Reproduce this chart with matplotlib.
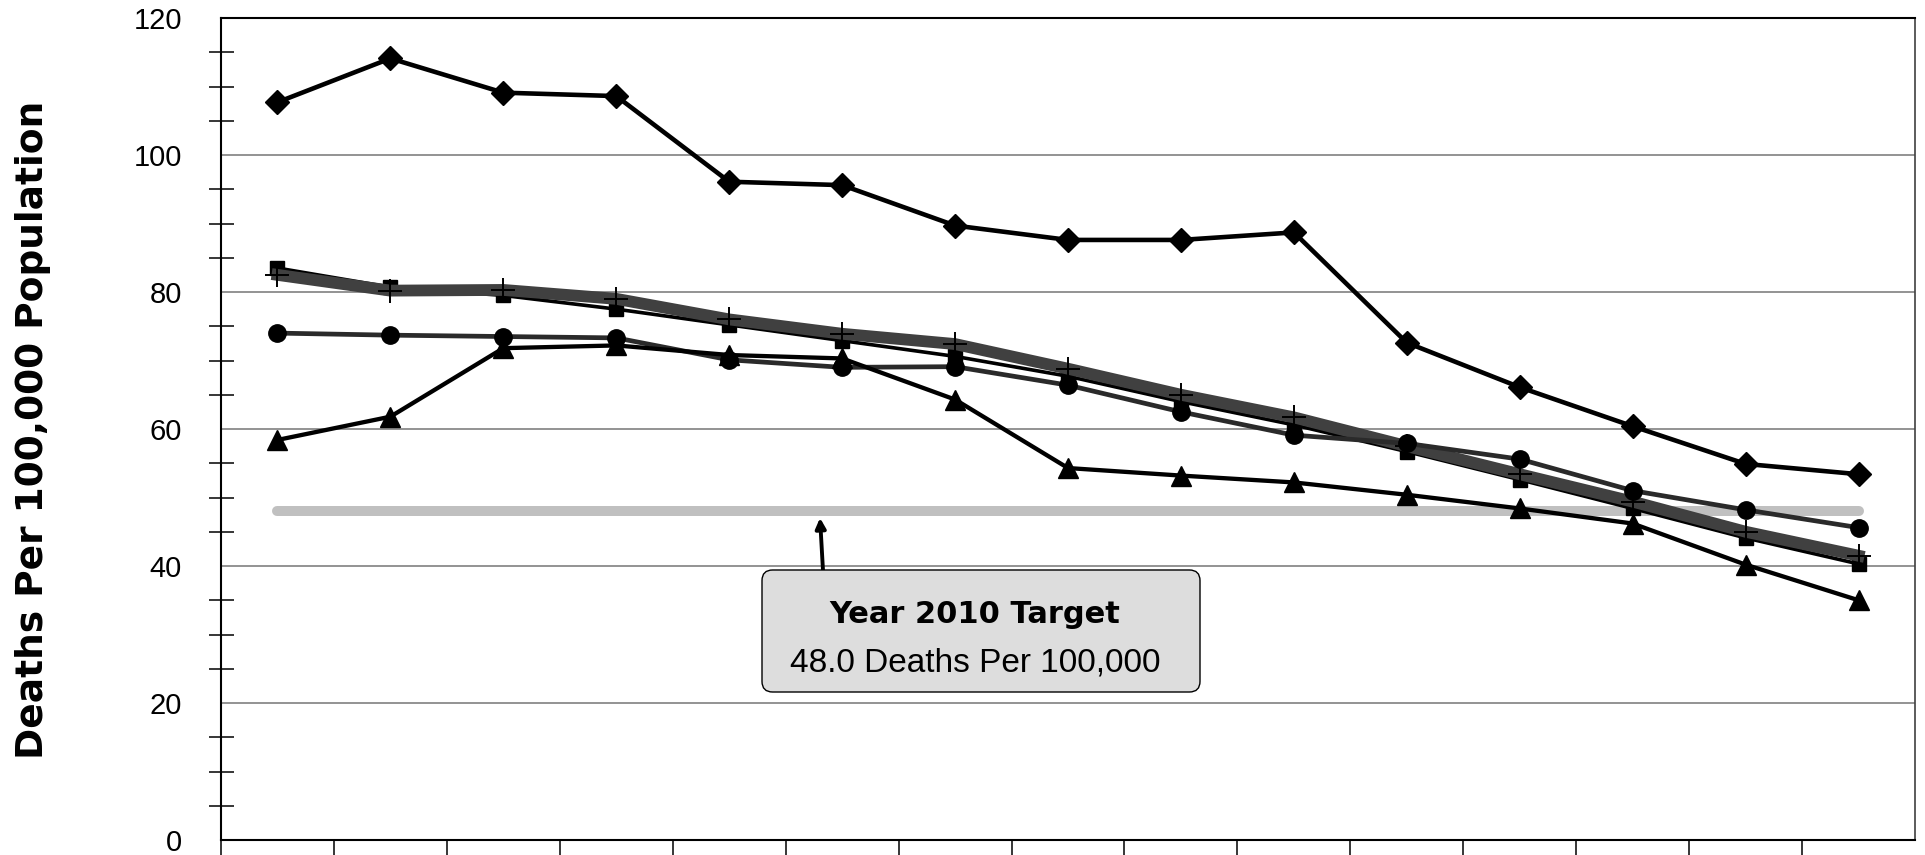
import numpy as np
import matplotlib
matplotlib.use("Agg")
import matplotlib.pyplot as plt
from matplotlib.patches import FancyBboxPatch
from matplotlib.ticker import FixedLocator, NullFormatter

# ---- data ----
years = [str(y) for y in range(1990, 2005)]
series_diamond = [107.7, 114.1, 109.1, 108.6, 96.1, 95.6, 89.7, 87.6, 87.6, 88.7, 72.6, 66.1, 60.4, 54.9, 53.4]
series_square = [83.5, 80.7, 79.5, 77.5, 75.2, 72.9, 70.6, 67.7, 64.0, 60.6, 56.7, 52.6, 48.4, 44.1, 40.3]
series_plus = [82.5, 80.2, 80.3, 79.0, 76.0, 73.9, 72.4, 68.8, 65.0, 61.7, 57.5, 53.4, 49.4, 45.0, 41.5]
series_circle = [74.0, 73.7, 73.5, 73.3, 70.1, 69.0, 69.1, 66.4, 62.5, 59.1, 57.9, 55.6, 51.0, 48.2, 45.6]
series_triangle = [58.4, 61.8, 71.8, 72.2, 70.8, 70.3, 64.3, 54.3, 53.2, 52.2, 50.4, 48.4, 46.2, 40.2, 35.0]
target_value = 48.0
y_ticks = [0, 20, 40, 60, 80, 100, 120]

W, H = 1925, 855
fig = plt.figure(figsize=(W / 100, H / 100), dpi=100)
ax = fig.add_axes([221 / W, 15 / H, (1915 - 221) / W, (840 - 18) / H])

x = np.arange(len(years))
ax.set_xlim(-0.5, len(years) - 0.5)
ax.set_ylim(0, 120)

# gridlines
for yv in y_ticks[1:-1]:
    ax.axhline(yv, color="#808080", lw=1.2, zorder=1)

# target line
ax.plot(x, [target_value] * len(x), color="#C0C0C0", lw=7.2,
        solid_capstyle="round", zorder=2)

ax.plot(x, series_diamond, color="black", lw=3.3, marker="D", ms=12,
        mfc="black", mec="black", zorder=5)
ax.plot(x, series_square, color="black", lw=2.6, marker="s", ms=10,
        mfc="black", mec="black", zorder=4)
ax.plot(x, series_plus, color="#404040", lw=8.5, marker="+", ms=17,
        mec="black", mew=1.4, zorder=4.5)
ax.plot(x, series_circle, color="#2a2a2a", lw=3.4, marker="o", ms=12.5,
        mfc="black", mec="black", zorder=5)
ax.plot(x, series_triangle, color="black", lw=3.1, marker="^", ms=15,
        mfc="black", mec="black", zorder=5)

# y axis ticks
ax.yaxis.set_major_locator(FixedLocator(y_ticks))
ax.set_yticklabels([str(v) for v in y_ticks])
minor_y = [v for v in range(5, 120, 5) if v % 20 != 0]
ax.yaxis.set_minor_locator(FixedLocator(minor_y))
ax.tick_params(axis="y", which="major", length=0, pad=28, labelsize=21)
ax.tick_params(axis="y", which="minor", direction="inout", length=18,
               width=1.1, color="black")
for lab in ax.get_yticklabels():
    lab.set_fontfamily("Liberation Sans")

# x axis: category boundary ticks only (year labels lie below the visible area)
ax.xaxis.set_major_locator(FixedLocator(list(x)))
ax.xaxis.set_major_formatter(NullFormatter())
ax.xaxis.set_minor_locator(FixedLocator([k - 0.5 for k in range(len(years))]))
ax.tick_params(axis="x", which="major", length=0)
ax.tick_params(axis="x", which="minor", direction="out", length=14,
               width=1.1, color="black")

for side in ["left", "bottom", "top"]:
    ax.spines[side].set_color("black")
    ax.spines[side].set_linewidth(1.5)
ax.spines["right"].set_color("#404040")
ax.spines["right"].set_linewidth(1.2)

# y label
fig.text(33 / W, (H - 430) / H, "Deaths Per 100,000 Population",
         rotation=90, ha="center", va="center", fontsize=27,
         fontweight="bold", family="DejaVu Sans")

# annotation box
bx0, bx1, by0, by1 = 762, 1200, 570, 692
box = FancyBboxPatch((bx0 / W, (H - by1) / H), (bx1 - bx0) / W, (by1 - by0) / H,
                     boxstyle="round,pad=0,rounding_size=0.0055",
                     mutation_aspect=W / H,
                     transform=fig.transFigure, facecolor="#DDDDDD",
                     edgecolor="black", lw=1.0, zorder=10)
fig.patches.append(box)
fig.text(975 / W, (H - 623) / H, "Year 2010 Target", ha="center",
         va="baseline", fontsize=22, fontweight="bold",
         family="DejaVu Sans", zorder=11)
fig.text(975 / W, (H - 671) / H, "48.0 Deaths Per 100,000", ha="center",
         va="baseline", fontsize=24, family="Liberation Sans", zorder=11)

# arrow from box to target line
ax.annotate("", xy=((820 - 221) / 112.93 - 0.5, (840 - 518) / 6.848),
            xytext=((823 - 221) / 112.93 - 0.5, (840 - 571) / 6.848),
            arrowprops=dict(arrowstyle="-|>,head_length=0.6,head_width=0.3",
                            color="black", lw=2.8, shrinkA=0, shrinkB=0),
            zorder=9)

fig.savefig("out.png", dpi=100)
